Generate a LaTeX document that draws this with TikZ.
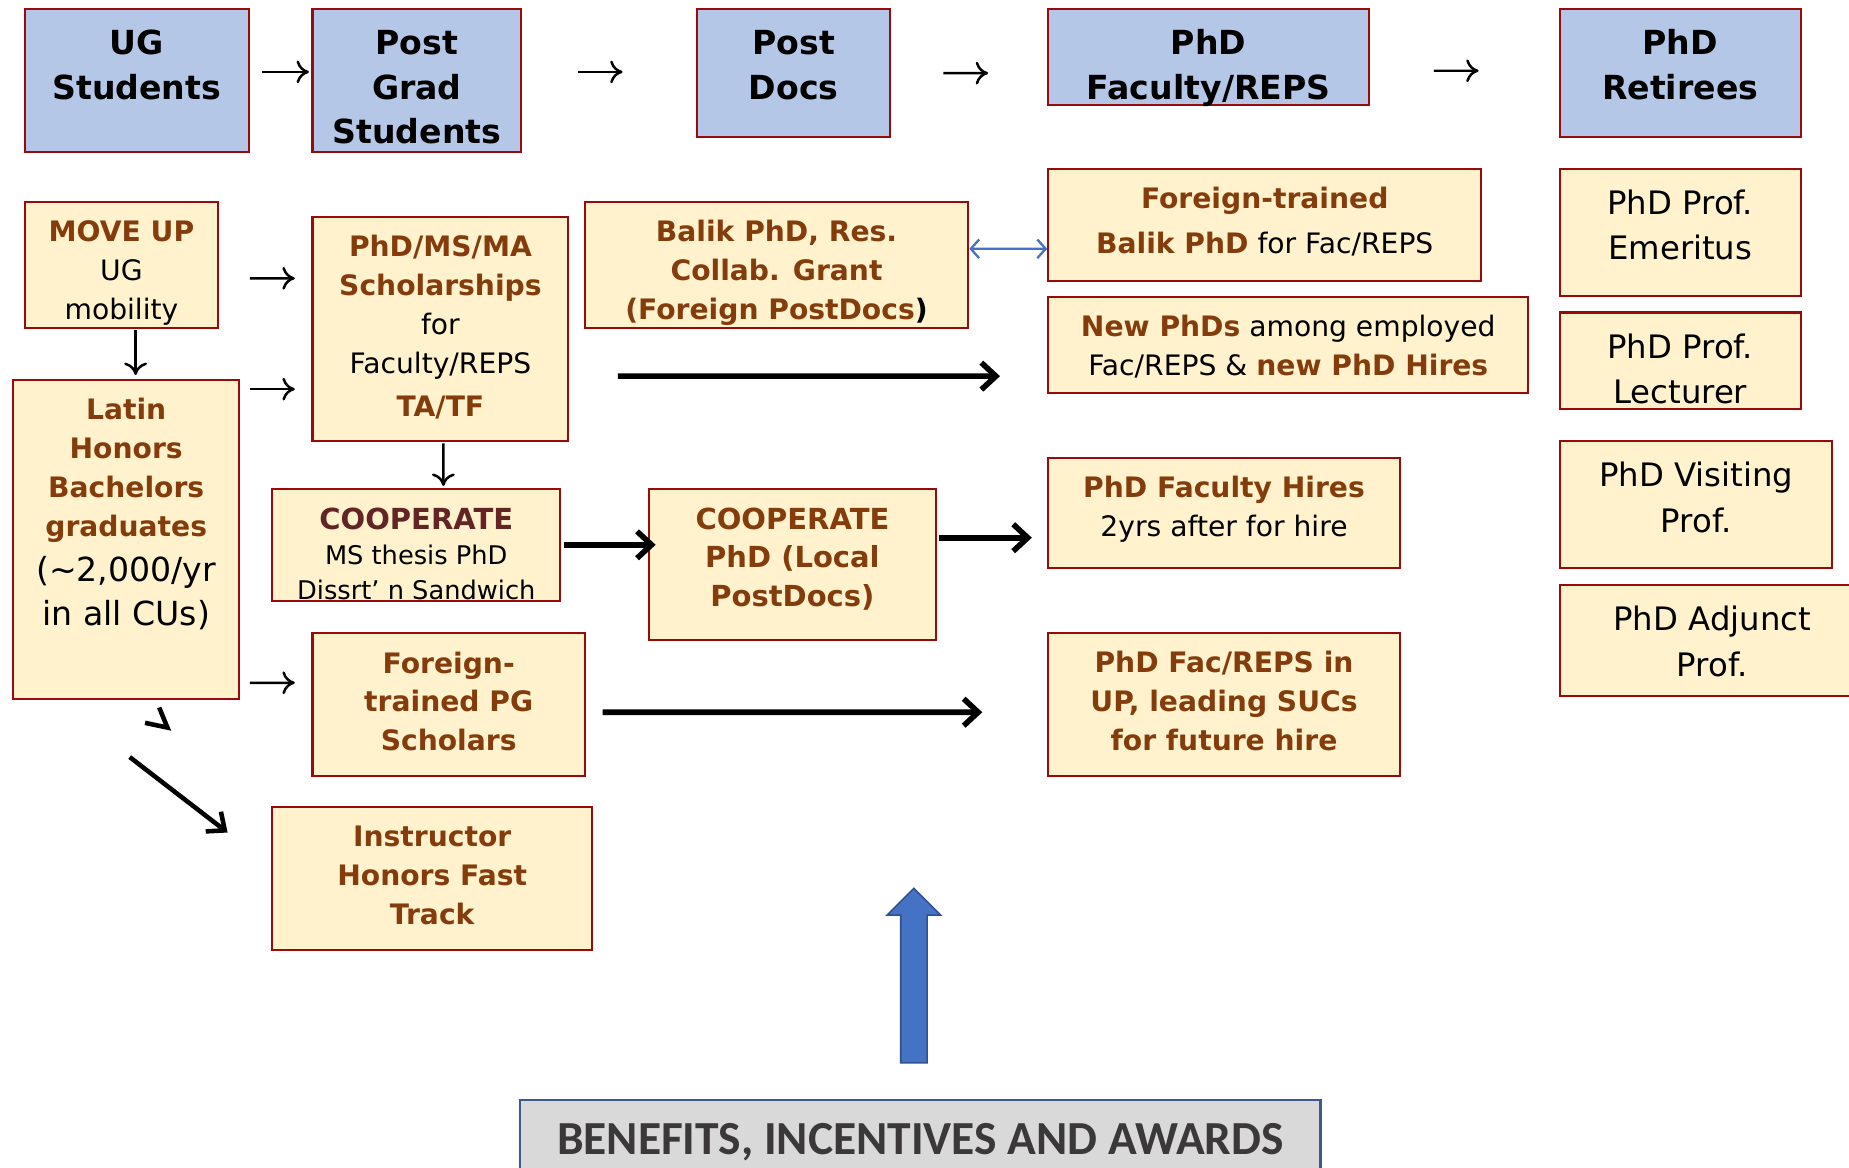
\documentclass[tikz,border=0pt]{standalone}
\usepackage{fontspec}
\setmainfont{DejaVu Sans}
\newfontfamily\benefitsfont{Carlito}
\usepackage{xcolor}
\usepackage{tikz}
\usetikzlibrary{shapes.arrows, arrows.meta, positioning}

\definecolor{titleblue}{HTML}{B4C7E7}
\definecolor{infoyellow}{HTML}{FFF2CC}
\definecolor{boxborder}{HTML}{9A0A0A}
\definecolor{brownbold}{HTML}{843C0C}
\definecolor{coopmaroon}{HTML}{632523}
\definecolor{liftblue}{HTML}{4472C4}
\definecolor{liftline}{HTML}{2F528F}
\definecolor{benefitsgray}{HTML}{D9D9D9}
\definecolor{benefitsline}{HTML}{3A5A8C}
\definecolor{benefitstext}{HTML}{3A3838}

\newlength{\px}
\setlength{\px}{0.02cm}
% bold brown words
\newcommand{\hl}[1]{\textbf{\color{brownbold}#1}}
% box text set from the top: width, height, top space, lines
\newcommand{\boxtext}[4]{\parbox[c][#2\px][t]{#1\px}{\centering\vspace*{#3\px}\strut#4}}

\begin{document}
\begin{tikzpicture}[
        x=0.02cm, y=-0.02cm,
        % Define common styles for nodes
        title_box/.style={rectangle, draw=boxborder, line width=1pt, fill=titleblue, inner sep=0pt, outer sep=0pt, font=\fontsize{16}{21.6}\selectfont\bfseries},
        info_box/.style={rectangle, draw=boxborder, line width=1pt, fill=infoyellow, inner sep=0pt, outer sep=0pt, font=\fontsize{13.6}{18.8}\selectfont},
        prof_box/.style={info_box, font=\fontsize{15.6}{21.9}\selectfont},
        % Styles for the arrows
        small_arrow/.style={draw, line width=1.2pt, -{Computer Modern Rightarrow[length=6pt, width=11pt]}},
        thick_arrow/.style={draw, line width=2.7pt, -{Straight Barb[length=7pt, width=13pt]}},
        diag_arrow/.style={draw, line width=2.2pt, -{Straight Barb[length=7pt, width=12pt]}},
        blue_arrow/.style={draw=liftblue, line width=1.1pt, {Straight Barb[length=4pt, width=9pt]}-{Straight Barb[length=4pt, width=9pt]}},
    ]
    \clip (0,0) rectangle (1568,990);

    % Top row (career stages)
    \node (ug_students) [title_box, anchor=north west] at (21,8) {\boxtext{190}{121}{11.6}{UG\\Students}};
    \node (post_grad) [title_box, right=1.08cm of ug_students.north east, anchor=north west] {\boxtext{177}{121}{11.6}{Post\\Grad\\Students}};
    \node (post_docs) [title_box, right=2.98cm of post_grad.north east, anchor=north west] {\boxtext{164}{108}{11.6}{Post\\Docs}};
    \node (phd_faculty) [title_box, right=2.68cm of post_docs.north east, anchor=north west] {\boxtext{272}{81}{11.6}{PhD\\Faculty/REPS}};
    \node (phd_retirees) [title_box, right=3.24cm of phd_faculty.north east, anchor=north west] {\boxtext{204}{108}{11.6}{PhD\\Retirees}};

    % Left column
    \node (move_up) [info_box, anchor=north west] at (21,171) {\boxtext{164}{107}{10.6}{\hl{MOVE UP}\\UG\\mobility}};
    \node (latin_honors) [info_box, anchor=north west] at (11,322) {\boxtext{192}{271}{10.6}{{\bfseries\color{brownbold}Latin\\Honors\\Bachelors\\graduates\par}{\fontsize{16}{21.6}\selectfont(\textasciitilde2,000/yr\\in all CUs)\par}}};

    % Post grad column
    \node (scholarships) [info_box, anchor=north west] at (265,184) {\boxtext{217}{190}{10.6}{\hl{PhD/MS/MA}\\\hl{Scholarships}\\for\\Faculty/REPS\\[3\px]\hl{TA/TF}}};
    \node (coop_ms) [info_box, anchor=north west, font=\fontsize{12.4}{17}\selectfont] at (231,415) {\boxtext{244}{95}{13.1}{{\fontsize{14}{17}\selectfont\textbf{\color{coopmaroon}COOPERATE}}\\MS thesis PhD\\Dissrt’ n Sandwich}};
    \node (foreign_pg) [info_box, anchor=north west] at (265,537) {\boxtext{231}{121}{10.6}{\hl{Foreign-}\\\hl{trained PG}\\\hl{Scholars}}};
    \node (instructor) [info_box, anchor=north west] at (231,684) {\boxtext{271}{122}{10.6}{\hl{Instructor}\\\hl{Honors Fast}\\\hl{Track}}};

    % Post doc column
    \node (balik_grant) [info_box, anchor=north west] at (496,171) {\boxtext{325}{107}{10.6}{\hl{Balik PhD, Res.}\\\hl{Collab. Grant}\\\hl{(Foreign PostDocs}\textbf{)}}};
    \node (coop_phd) [info_box, anchor=north west, font=\fontsize{14}{18.5}\selectfont] at (550,415) {\boxtext{244}{128}{11.25}{\hl{COOPERATE}\\\hl{PhD (Local}\\\hl{PostDocs)}}};

    % Faculty column
    \node (foreign_balik) [info_box, anchor=north west] at (889,143) {\boxtext{367}{95}{10.6}{\hl{Foreign-trained}\\[5\px]\hl{Balik PhD} for Fac/REPS}};
    \node (new_phds) [info_box, below=0.28cm of foreign_balik.south west, anchor=north west] {\boxtext{407}{81}{10.6}{\hl{New PhDs} among employed\\Fac/REPS \& \hl{new PhD Hires}}};
    \node (faculty_hires) [info_box, anchor=north west] at (889,388) {\boxtext{298}{94}{10.6}{\hl{PhD Faculty Hires}\\2yrs after for hire}};
    \node (future_hire) [info_box, below=1.1cm of faculty_hires.south west, anchor=north west] {\boxtext{298}{121}{10.6}{\hl{PhD Fac/REPS in}\\\hl{UP, leading SUCs}\\\hl{for future hire}}};

    % Retirees column
    \node (prof_emeritus) [prof_box, below=0.54cm of phd_retirees] {\boxtext{204}{108}{12}{PhD Prof.\\Emeritus}};
    \node (prof_lecturer) [prof_box, below=0.28cm of prof_emeritus] {\boxtext{204}{82}{12}{PhD Prof.\\Lecturer}};
    \node (visiting_prof) [prof_box, below=0.54cm of prof_lecturer.south west, anchor=north west] {\boxtext{231}{108}{12}{PhD Visiting\\Prof.}};
    \node (adjunct_prof) [prof_box, below=0.28cm of visiting_prof.south west, anchor=north west] {\boxtext{258}{94}{12}{PhD Adjunct\\Prof.}};

    % Bottom bar and lift arrow
    \node (benefits) [rectangle, draw=benefitsline, line width=1.2pt, fill=benefitsgray, inner sep=0pt, outer sep=0pt, font=\benefitsfont\bfseries\fontsize{22.9}{28}\selectfont, text=benefitstext, anchor=north west] at (441,933) {\boxtext{679}{80}{11.6}{BENEFITS, INCENTIVES AND AWARDS}};
    \node (lift_arrow) [single arrow, draw=liftline, fill=liftblue, line width=0.8pt, minimum height=2.96cm, inner sep=0.21cm,
                        single arrow head extend=0.23cm, single arrow head indent=0pt, shape border rotate=90, anchor=tail] at (775,902) {};

    % Draw connections/arrows
    \draw[small_arrow] ([shift={(11,-7.5)}]ug_students.east) -- ([shift={(-3,-7.5)}]post_grad.west);
    \draw[small_arrow] ([shift={(48,-7.5)}]post_grad.east) -- ([shift={(-63,-1)}]post_docs.west);
    \draw[small_arrow] ([shift={(45,0)}]post_docs.east) -- ([shift={(-51,13.5)}]phd_faculty.west);
    \draw[small_arrow] ([shift={(55,11.5)}]phd_faculty.east) -- ([shift={(-69,-2)}]phd_retirees.west);

    \draw[small_arrow] ([shift={(27,11.5)}]move_up.east) -- ([shift={(-15,-43)}]scholarships.west);
    \draw[small_arrow] ([shift={(9,-127.5)}]latin_honors.east) -- ([shift={(-15,51)}]scholarships.west);
    \draw[small_arrow] ([shift={(9,121.5)}]latin_honors.east) -- ([shift={(-15,-18.5)}]foreign_pg.west);
    \draw[small_arrow] ([shift={(12,2)}]move_up.south) -- ([shift={(8,-4)}]latin_honors.north);
    \draw[small_arrow] ([shift={(2.5,2)}]scholarships.south) -- ([shift={(23,-3)}]coop_ms.north);

    \draw[thick_arrow] ([shift={(42,40)}]scholarships.east) -- ([shift={(-41,26.5)}]new_phds.west);
    \draw[thick_arrow] ([shift={(3,-0.5)}]coop_ms.east) -- ([shift={(6,-17)}]coop_phd.west);
    \draw[thick_arrow] ([shift={(2,-23)}]coop_phd.east) -- ([shift={(-14,21)}]faculty_hires.west);
    \draw[thick_arrow] ([shift={(15,6.5)}]foreign_pg.east) -- ([shift={(-56,6.5)}]future_hire.west);

    \draw[diag_arrow] ([shift={(3,49)}]latin_honors.south) -- ([shift={(-38,-39)}]instructor.west);
    \draw[line width=2.2pt] ([shift={(28,7)}]latin_honors.south) -- ([shift={(35,24)}]latin_honors.south) -- ([shift={(16,20)}]latin_honors.south);

    \draw[blue_arrow] ([shift={(1,-13.5)}]balik_grant.east) -- ([shift={(-1,20.5)}]foreign_balik.west);

\end{tikzpicture}
\end{document}
